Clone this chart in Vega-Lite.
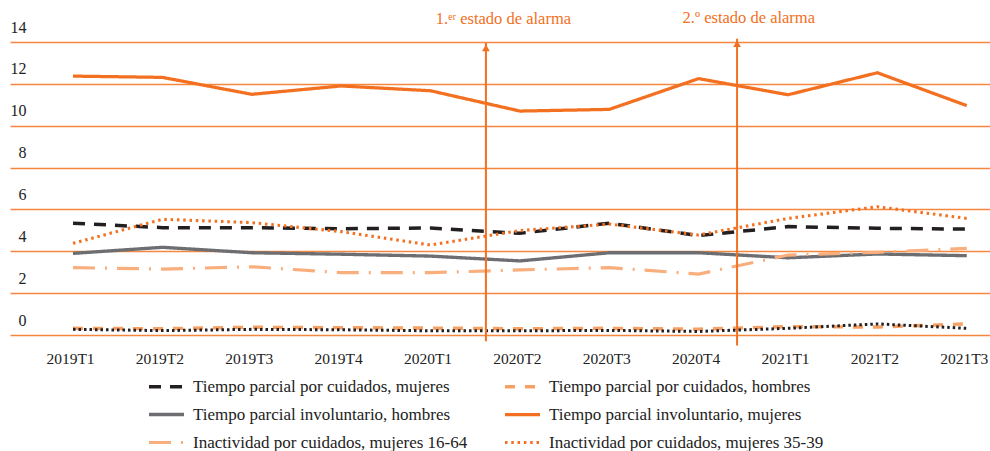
{
  "$schema": "https://vega.github.io/schema/vega-lite/v6.json",
  "width": 980,
  "height": 293,
  "autosize": {"type": "none"},
  "padding": {"left": 10, "top": 42, "right": 0, "bottom": 116},
  "background": "white",
  "config": {
    "view": {"stroke": null},
    "font": "Liberation Serif"
  },
  "datasets": {
    "series": [
      {"t": 0, "trimestre": "2019T1", "serie": "Tiempo parcial involuntario, mujeres", "valor": 12.37},
      {"t": 1, "trimestre": "2019T2", "serie": "Tiempo parcial involuntario, mujeres", "valor": 12.31},
      {"t": 2, "trimestre": "2019T3", "serie": "Tiempo parcial involuntario, mujeres", "valor": 11.5},
      {"t": 3, "trimestre": "2019T4", "serie": "Tiempo parcial involuntario, mujeres", "valor": 11.9},
      {"t": 4, "trimestre": "2020T1", "serie": "Tiempo parcial involuntario, mujeres", "valor": 11.67},
      {"t": 5, "trimestre": "2020T2", "serie": "Tiempo parcial involuntario, mujeres", "valor": 10.7},
      {"t": 6, "trimestre": "2020T3", "serie": "Tiempo parcial involuntario, mujeres", "valor": 10.78},
      {"t": 7, "trimestre": "2020T4", "serie": "Tiempo parcial involuntario, mujeres", "valor": 12.25},
      {"t": 8, "trimestre": "2021T1", "serie": "Tiempo parcial involuntario, mujeres", "valor": 11.48},
      {"t": 9, "trimestre": "2021T2", "serie": "Tiempo parcial involuntario, mujeres", "valor": 12.53},
      {"t": 10, "trimestre": "2021T3", "serie": "Tiempo parcial involuntario, mujeres", "valor": 10.96},

      {"t": 0, "trimestre": "2019T1", "serie": "Tiempo parcial por cuidados, mujeres", "valor": 5.34},
      {"t": 1, "trimestre": "2019T2", "serie": "Tiempo parcial por cuidados, mujeres", "valor": 5.13},
      {"t": 2, "trimestre": "2019T3", "serie": "Tiempo parcial por cuidados, mujeres", "valor": 5.13},
      {"t": 3, "trimestre": "2019T4", "serie": "Tiempo parcial por cuidados, mujeres", "valor": 5.08},
      {"t": 4, "trimestre": "2020T1", "serie": "Tiempo parcial por cuidados, mujeres", "valor": 5.11},
      {"t": 5, "trimestre": "2020T2", "serie": "Tiempo parcial por cuidados, mujeres", "valor": 4.86},
      {"t": 6, "trimestre": "2020T3", "serie": "Tiempo parcial por cuidados, mujeres", "valor": 5.34},
      {"t": 7, "trimestre": "2020T4", "serie": "Tiempo parcial por cuidados, mujeres", "valor": 4.75},
      {"t": 8, "trimestre": "2021T1", "serie": "Tiempo parcial por cuidados, mujeres", "valor": 5.18},
      {"t": 9, "trimestre": "2021T2", "serie": "Tiempo parcial por cuidados, mujeres", "valor": 5.1},
      {"t": 10, "trimestre": "2021T3", "serie": "Tiempo parcial por cuidados, mujeres", "valor": 5.06},

      {"t": 0, "trimestre": "2019T1", "serie": "Inactividad por cuidados, mujeres 35-39", "valor": 4.38},
      {"t": 1, "trimestre": "2019T2", "serie": "Inactividad por cuidados, mujeres 35-39", "valor": 5.53},
      {"t": 2, "trimestre": "2019T3", "serie": "Inactividad por cuidados, mujeres 35-39", "valor": 5.37},
      {"t": 3, "trimestre": "2019T4", "serie": "Inactividad por cuidados, mujeres 35-39", "valor": 4.94},
      {"t": 4, "trimestre": "2020T1", "serie": "Inactividad por cuidados, mujeres 35-39", "valor": 4.3},
      {"t": 5, "trimestre": "2020T2", "serie": "Inactividad por cuidados, mujeres 35-39", "valor": 4.99},
      {"t": 6, "trimestre": "2020T3", "serie": "Inactividad por cuidados, mujeres 35-39", "valor": 5.3},
      {"t": 7, "trimestre": "2020T4", "serie": "Inactividad por cuidados, mujeres 35-39", "valor": 4.78},
      {"t": 8, "trimestre": "2021T1", "serie": "Inactividad por cuidados, mujeres 35-39", "valor": 5.57},
      {"t": 9, "trimestre": "2021T2", "serie": "Inactividad por cuidados, mujeres 35-39", "valor": 6.13},
      {"t": 10, "trimestre": "2021T3", "serie": "Inactividad por cuidados, mujeres 35-39", "valor": 5.57},

      {"t": 0, "trimestre": "2019T1", "serie": "Tiempo parcial involuntario, hombres", "valor": 3.9},
      {"t": 1, "trimestre": "2019T2", "serie": "Tiempo parcial involuntario, hombres", "valor": 4.19},
      {"t": 2, "trimestre": "2019T3", "serie": "Tiempo parcial involuntario, hombres", "valor": 3.93},
      {"t": 3, "trimestre": "2019T4", "serie": "Tiempo parcial involuntario, hombres", "valor": 3.86},
      {"t": 4, "trimestre": "2020T1", "serie": "Tiempo parcial involuntario, hombres", "valor": 3.77},
      {"t": 5, "trimestre": "2020T2", "serie": "Tiempo parcial involuntario, hombres", "valor": 3.54},
      {"t": 6, "trimestre": "2020T3", "serie": "Tiempo parcial involuntario, hombres", "valor": 3.93},
      {"t": 7, "trimestre": "2020T4", "serie": "Tiempo parcial involuntario, hombres", "valor": 3.93},
      {"t": 8, "trimestre": "2021T1", "serie": "Tiempo parcial involuntario, hombres", "valor": 3.69},
      {"t": 9, "trimestre": "2021T2", "serie": "Tiempo parcial involuntario, hombres", "valor": 3.87},
      {"t": 10, "trimestre": "2021T3", "serie": "Tiempo parcial involuntario, hombres", "valor": 3.79},

      {"t": 0, "trimestre": "2019T1", "serie": "Inactividad por cuidados, mujeres 16-64", "valor": 3.22},
      {"t": 1, "trimestre": "2019T2", "serie": "Inactividad por cuidados, mujeres 16-64", "valor": 3.15},
      {"t": 2, "trimestre": "2019T3", "serie": "Inactividad por cuidados, mujeres 16-64", "valor": 3.26},
      {"t": 3, "trimestre": "2019T4", "serie": "Inactividad por cuidados, mujeres 16-64", "valor": 2.98},
      {"t": 4, "trimestre": "2020T1", "serie": "Inactividad por cuidados, mujeres 16-64", "valor": 2.98},
      {"t": 5, "trimestre": "2020T2", "serie": "Inactividad por cuidados, mujeres 16-64", "valor": 3.11},
      {"t": 6, "trimestre": "2020T3", "serie": "Inactividad por cuidados, mujeres 16-64", "valor": 3.22},
      {"t": 7, "trimestre": "2020T4", "serie": "Inactividad por cuidados, mujeres 16-64", "valor": 2.91},
      {"t": 8, "trimestre": "2021T1", "serie": "Inactividad por cuidados, mujeres 16-64", "valor": 3.82},
      {"t": 9, "trimestre": "2021T2", "serie": "Inactividad por cuidados, mujeres 16-64", "valor": 3.95},
      {"t": 10, "trimestre": "2021T3", "serie": "Inactividad por cuidados, mujeres 16-64", "valor": 4.14},

      {"t": 0, "trimestre": "2019T1", "serie": "Tiempo parcial por cuidados, hombres", "valor": 0.32},
      {"t": 1, "trimestre": "2019T2", "serie": "Tiempo parcial por cuidados, hombres", "valor": 0.3},
      {"t": 2, "trimestre": "2019T3", "serie": "Tiempo parcial por cuidados, hombres", "valor": 0.37},
      {"t": 3, "trimestre": "2019T4", "serie": "Tiempo parcial por cuidados, hombres", "valor": 0.35},
      {"t": 4, "trimestre": "2020T1", "serie": "Tiempo parcial por cuidados, hombres", "valor": 0.33},
      {"t": 5, "trimestre": "2020T2", "serie": "Tiempo parcial por cuidados, hombres", "valor": 0.3},
      {"t": 6, "trimestre": "2020T3", "serie": "Tiempo parcial por cuidados, hombres", "valor": 0.32},
      {"t": 7, "trimestre": "2020T4", "serie": "Tiempo parcial por cuidados, hombres", "valor": 0.28},
      {"t": 8, "trimestre": "2021T1", "serie": "Tiempo parcial por cuidados, hombres", "valor": 0.4},
      {"t": 9, "trimestre": "2021T2", "serie": "Tiempo parcial por cuidados, hombres", "valor": 0.38},
      {"t": 10, "trimestre": "2021T3", "serie": "Tiempo parcial por cuidados, hombres", "valor": 0.53},

      {"t": 0, "trimestre": "2019T1", "serie": "Inactividad por cuidados, hombres", "valor": 0.27},
      {"t": 1, "trimestre": "2019T2", "serie": "Inactividad por cuidados, hombres", "valor": 0.21},
      {"t": 2, "trimestre": "2019T3", "serie": "Inactividad por cuidados, hombres", "valor": 0.27},
      {"t": 3, "trimestre": "2019T4", "serie": "Inactividad por cuidados, hombres", "valor": 0.25},
      {"t": 4, "trimestre": "2020T1", "serie": "Inactividad por cuidados, hombres", "valor": 0.2},
      {"t": 5, "trimestre": "2020T2", "serie": "Inactividad por cuidados, hombres", "valor": 0.2},
      {"t": 6, "trimestre": "2020T3", "serie": "Inactividad por cuidados, hombres", "valor": 0.22},
      {"t": 7, "trimestre": "2020T4", "serie": "Inactividad por cuidados, hombres", "valor": 0.17},
      {"t": 8, "trimestre": "2021T1", "serie": "Inactividad por cuidados, hombres", "valor": 0.32},
      {"t": 9, "trimestre": "2021T2", "serie": "Inactividad por cuidados, hombres", "valor": 0.53},
      {"t": 10, "trimestre": "2021T3", "serie": "Inactividad por cuidados, hombres", "valor": 0.32}
    ],
    "alarmas": [
      {"t": 4.62, "desde": -0.3, "hasta": 13.95, "punta": 13.72, "texto_t": 4.06, "texto_y": 14.88, "texto": "1.ᵉʳ estado de alarma"},
      {"t": 7.43, "desde": -0.5, "hasta": 14.15, "punta": 13.92, "texto_t": 6.82, "texto_y": 14.9, "texto": "2.º estado de alarma"}
    ]
  },
  "layer": [
    {
      "data": {"name": "series"},
      "mark": {"type": "line", "strokeCap": "butt", "strokeJoin": "miter"},
      "encoding": {
        "x": {
          "field": "t", "type": "quantitative",
          "scale": {"domain": [-0.705, 10.26], "nice": false, "zero": false},
          "axis": {
            "title": null, "grid": false, "ticks": false, "domain": false,
            "values": [0, 1, 2, 3, 4, 5, 6, 7, 8, 9, 10],
            "labelExpr": "['2019T1','2019T2','2019T3','2019T4','2020T1','2020T2','2020T3','2020T4','2021T1','2021T2','2021T3'][datum.value]",
            "labelFont": "Liberation Serif", "labelFontSize": 15.5, "labelColor": "#222222",
            "labelBaseline": "alphabetic", "labelPadding": 28, "labelOffset": -3, "labelFlush": false, "labelOverlap": false
          }
        },
        "y": {
          "field": "valor", "type": "quantitative",
          "scale": {"domain": [0, 14], "nice": false},
          "axis": {
            "title": null, "ticks": false, "domain": false,
            "values": [0, 2, 4, 6, 8, 10, 12, 14],
            "grid": true, "gridColor": "#F5883F", "gridWidth": 1.5,
            "labelFont": "Liberation Serif", "labelFontSize": 16, "labelColor": "#222222",
            "labelAlign": "right", "labelBaseline": "alphabetic", "labelPadding": -16, "labelOffset": -10
          }
        },
        "color": {
          "field": "serie", "type": "nominal",
          "scale": {
            "domain": [
              "Tiempo parcial por cuidados, mujeres",
              "Tiempo parcial por cuidados, hombres",
              "Tiempo parcial involuntario, hombres",
              "Tiempo parcial involuntario, mujeres",
              "Inactividad por cuidados, mujeres 16-64",
              "Inactividad por cuidados, mujeres 35-39",
              "Inactividad por cuidados, hombres"
            ],
            "range": ["#231F20", "#F7A064", "#6D6E71", "#F37021", "#F9AE7D", "#F37021", "#231F20"]
          },
          "legend": {
            "title": null, "orient": "none", "legendX": 137, "legendY": 325,
            "direction": "horizontal",
            "columns": 2, "columnPadding": 30, "rowPadding": -8.5,
            "symbolType": "stroke", "symbolSize": 1225, "labelOffset": 7,
            "labelFont": "Liberation Serif", "labelFontSize": 17, "labelColor": "#222222", "labelLimit": 400,
            "values": [
              "Tiempo parcial por cuidados, mujeres",
              "Tiempo parcial por cuidados, hombres",
              "Tiempo parcial involuntario, hombres",
              "Tiempo parcial involuntario, mujeres",
              "Inactividad por cuidados, mujeres 16-64",
              "Inactividad por cuidados, mujeres 35-39"
            ]
          }
        },
        "strokeDash": {
          "field": "serie", "type": "nominal",
          "scale": {
            "domain": [
              "Tiempo parcial por cuidados, mujeres",
              "Tiempo parcial por cuidados, hombres",
              "Tiempo parcial involuntario, hombres",
              "Tiempo parcial involuntario, mujeres",
              "Inactividad por cuidados, mujeres 16-64",
              "Inactividad por cuidados, mujeres 35-39",
              "Inactividad por cuidados, hombres"
            ],
            "range": [[12, 9], [10, 10], [1, 0], [1, 0], [22, 10, 2, 10], [2.5, 3.8], [2.5, 3]]
          }
        },
        "strokeWidth": {
          "field": "serie", "type": "nominal",
          "scale": {
            "domain": [
              "Tiempo parcial por cuidados, mujeres",
              "Tiempo parcial por cuidados, hombres",
              "Tiempo parcial involuntario, hombres",
              "Tiempo parcial involuntario, mujeres",
              "Inactividad por cuidados, mujeres 16-64",
              "Inactividad por cuidados, mujeres 35-39",
              "Inactividad por cuidados, hombres"
            ],
            "range": [3.5, 3, 4.5, 4.5, 3, 2.5, 2.5]
          }
        },
        "order": {"field": "t"}
      }
    },
    {
      "data": {"name": "alarmas"},
      "mark": {"type": "rule", "color": "#F37021", "strokeWidth": 2},
      "encoding": {
        "x": {"field": "t", "type": "quantitative"},
        "y": {"field": "desde", "type": "quantitative"},
        "y2": {"field": "hasta"}
      }
    },
    {
      "data": {"name": "alarmas"},
      "mark": {"type": "point", "shape": "triangle-up", "filled": true, "color": "#F37021", "size": 60, "opacity": 1},
      "encoding": {
        "x": {"field": "t", "type": "quantitative"},
        "y": {"field": "punta", "type": "quantitative"}
      }
    },
    {
      "data": {"name": "alarmas"},
      "mark": {"type": "text", "align": "left", "baseline": "alphabetic", "font": "Liberation Serif", "fontSize": 16.5, "color": "#F37021"},
      "encoding": {
        "x": {"field": "texto_t", "type": "quantitative"},
        "y": {"field": "texto_y", "type": "quantitative"},
        "text": {"field": "texto"}
      }
    }
  ]
}
